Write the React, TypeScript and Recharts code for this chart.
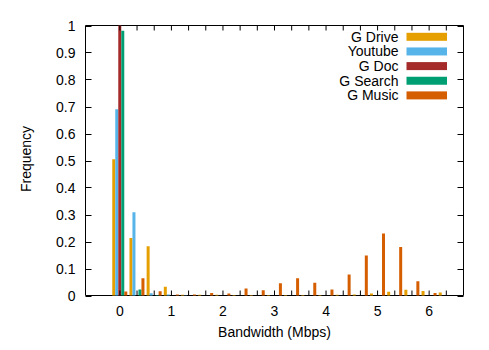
import { BarChart, Bar, XAxis, YAxis, ReferenceArea } from "recharts";

// histogram bins (1/3 Mbps each), label every 3rd bin
const bins = [0, 1, 2, 3, 4, 5, 6, 7, 8, 9, 10, 11, 12, 13, 14, 15, 16, 17, 18, 19];
const gDrive = [0.505, 0.213, 0.182, 0.032, 0.003, 0.003, 0.003, 0.002, 0.002, 0.002, 0.002, 0.002, 0.002, 0.003, 0.004, 0.007, 0.014, 0.021, 0.017, 0.011];
const youtube = [0.69, 0.308, 0.008, 0.004, 0.001, 0, 0, 0, 0, 0, 0, 0, 0, 0, 0, 0, 0, 0, 0, 0];
const gDoc = [1.0, 0, 0, 0, 0, 0, 0, 0, 0, 0, 0, 0, 0, 0, 0, 0, 0, 0, 0, 0];
const gSearch = [0.981, 0.022, 0.002, 0, 0, 0, 0, 0, 0, 0, 0, 0, 0, 0, 0, 0, 0, 0, 0, 0];
const gMusic = [0.015, 0.064, 0.016, 0.004, 0.004, 0.009, 0.007, 0.026, 0.019, 0.045, 0.064, 0.047, 0.022, 0.078, 0.148, 0.23, 0.18, 0.053, 0.009, 0];

const xTickBins = [0, 3, 6, 9, 12, 15, 18];
const xTickLabels = ["0", "1", "2", "3", "4", "5", "6"];
const yTicks = [0, 0.1, 0.2, 0.3, 0.4, 0.5, 0.6, 0.7, 0.8, 0.9, 1];
const yTickLabels = ["0", "0.1", "0.2", "0.3", "0.4", "0.5", "0.6", "0.7", "0.8", "0.9", "1"];

const series = [
  { key: "drive", name: "G Drive", color: "#e69f00", values: gDrive },
  { key: "youtube", name: "Youtube", color: "#56b4e9", values: youtube },
  { key: "doc", name: "G Doc", color: "#a52a2a", values: gDoc },
  { key: "search", name: "G Search", color: "#009e73", values: gSearch },
  { key: "music", name: "G Music", color: "#d55e00", values: gMusic },
];

const rows = bins.map((bin, i) => {
  const row: Record<string, number> = { bin };
  series.forEach((s) => (row[s.key] = s.values[i]));
  return row;
});

const W = 489;
const H = 350;
const PLOT = { left: 85.5, right: 463.5, top: 25.5, bottom: 295.5 };
const FONT = "'Liberation Sans', Arial, sans-serif";
const Y_AXIS_W = 60;
const X_AXIS_H = 30;

function XTick({ x, payload }: any) {
  const i = xTickBins.indexOf(payload.value);
  return (
    <g>
      <line x1={x} x2={x} y1={PLOT.bottom} y2={PLOT.bottom - 5} stroke="#000" />
      <line x1={x} x2={x} y1={PLOT.top} y2={PLOT.top + 5} stroke="#000" />
      {i >= 0 && (
        <text x={x} y={PLOT.bottom + 20.5} textAnchor="middle" fontSize={14} fontFamily={FONT} fill="#000">
          {xTickLabels[i]}
        </text>
      )}
    </g>
  );
}

function YTick({ x, y, payload }: any) {
  const i = yTicks.indexOf(payload.value);
  const yy = Math.round(y) + 0.5;
  return (
    <g>
      <line x1={PLOT.left} x2={PLOT.left + 6} y1={yy} y2={yy} stroke="#000" />
      <line x1={PLOT.right - 6} x2={PLOT.right} y1={yy} y2={yy} stroke="#000" />
      <text x={x} y={y + 5} textAnchor="end" fontSize={14} fontFamily={FONT} fill="#000">
        {yTickLabels[i]}
      </text>
    </g>
  );
}

export default function App() {
  return (
    <div style={{ position: "absolute", left: 0, top: 0, width: W, height: H, background: "#fff" }}>
      <BarChart
        width={W}
        height={H}
        data={rows}
        barGap={0}
        barSize={3}
        margin={{ top: PLOT.top, right: W - PLOT.right, left: PLOT.left - Y_AXIS_W, bottom: H - PLOT.bottom - X_AXIS_H }}
      >
        <XAxis
          dataKey="bin"
          type="number"
          domain={[-2, 20]}
          ticks={bins}
          interval={0}
          allowDataOverflow
          height={X_AXIS_H}
          tickSize={0}
          tickLine={false}
          axisLine={false}
          tick={(p: any) => <XTick {...p} />}
        />
        <YAxis
          type="number"
          domain={[0, 1]}
          ticks={yTicks}
          interval={0}
          width={Y_AXIS_W}
          tickSize={0}
          tickMargin={10}
          tickLine={false}
          axisLine={false}
          tick={(p: any) => <YTick {...p} />}
        />
        {series.map((s) => (
          <Bar key={s.key} dataKey={s.key} name={s.name} fill={s.color} isAnimationActive={false} />
        ))}
        <ReferenceArea x1={-2} x2={20} y1={0} y2={1} fill="none" stroke="#000" strokeWidth={1} />
      </BarChart>
      <svg width={W} height={H} style={{ position: "absolute", left: 0, top: 0, pointerEvents: "none" }}>
        {series.map((s, i) => (
          <g key={s.key}>
            <text x={398.5} y={36.8 + i * 14.65 + 5} textAnchor="end" fontSize={14} fontFamily={FONT} fill="#000">
              {s.name}
            </text>
            <rect x={406.5} y={36.8 + i * 14.65 - 4} width={40.5} height={8} fill={s.color} />
          </g>
        ))}
        <text
          x={31}
          y={159}
          transform="rotate(-90 31 159)"
          textAnchor="middle"
          fontSize={14}
          fontFamily={FONT}
          fill="#000"
        >
          Frequency
        </text>
        <text x={274.5} y={337} textAnchor="middle" fontSize={14} fontFamily={FONT} fill="#000">
          Bandwidth (Mbps)
        </text>
      </svg>
    </div>
  );
}
